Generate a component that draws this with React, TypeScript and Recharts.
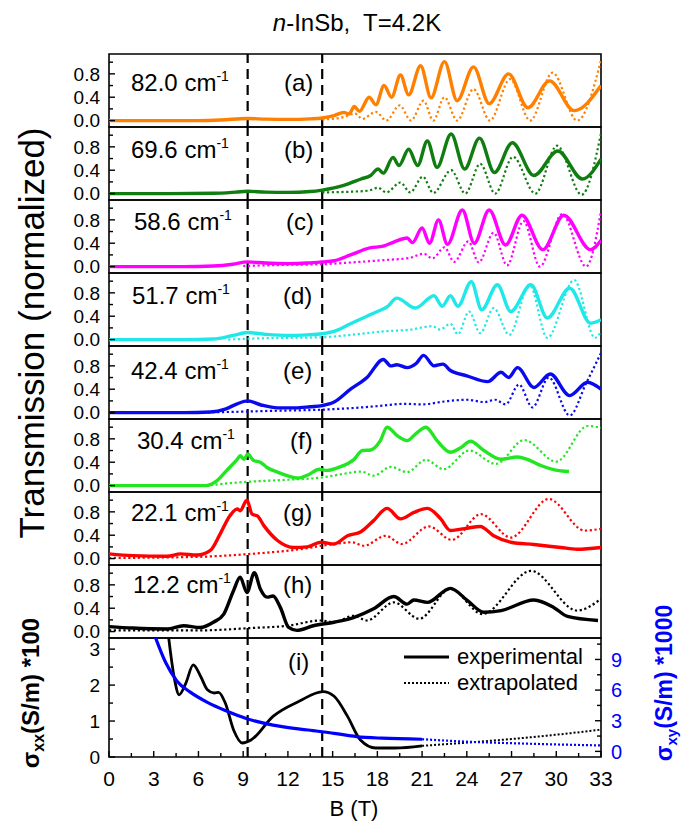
import React from "react";
import {
  LineChart,
  Line,
  XAxis,
  YAxis,
  ReferenceLine,
  ReferenceArea,
  Legend,
} from "recharts";

type Pt = [number, number];

const FONT = "'Liberation Sans', Arial, Helvetica, sans-serif";
const W = 689;
const PLOT_L = 109;
const PLOT_R = 601;
const PANEL_H = 73;
const BOTTOM_PLOT_H = 119;
const BOTTOM_AXIS_H = 40;

// shared B axis
const B_TICKS = [0, 1.5, 3, 4.5, 6, 7.5, 9, 10.5, 12, 13.5, 15, 16.5, 18, 19.5, 21, 22.5, 24, 25.5, 27, 28.5, 30, 31.5, 33];
const B_LABELS = [0, 3, 6, 9, 12, 15, 18, 21, 24, 27, 30, 33];
const DASHED_B = [9.3, 14.3];

// transmission panels
const T_DOMAIN: [number, number] = [-0.11, 1.14];
const T_TICKS = [0, 0.2, 0.4, 0.6, 0.8, 1.0];
const T_LABELS = [0, 0.4, 0.8];

// conductivity panel
const SXX_DOMAIN: [number, number] = [0, 3.31];
const SXX_TICKS = [0, 0.5, 1, 1.5, 2, 2.5, 3];
const SXX_LABELS = [0, 1, 2, 3];
const SXY_DOMAIN: [number, number] = [-0.55, 11.1];
const SXY_TICKS = [0, 1.5, 3, 4.5, 6, 7.5, 9, 10.5];
const SXY_LABELS = [0, 3, 6, 9];

// (a) 82.0 cm-1
const A_EXP: Pt[] = [[0, 0], [3, 0], [6, 0], [7.5, 0.01], [9.3, 0.035], [10.5, 0.025], [12, 0.02], [13.5, 0.03], [14.3, 0.045], [15.1, 0.085], [15.75, 0.14], [16.1, 0.11], [16.45, 0.24], [16.8, 0.16], [17.45, 0.4], [17.9, 0.27], [18.45, 0.6], [18.95, 0.4], [19.55, 0.78], [20.1, 0.44], [20.9, 0.94], [21.6, 0.39], [22.5, 1.01], [23.35, 0.34], [24.45, 0.92], [25.5, 0.29], [26.8, 0.8], [28.1, 0.22], [29.55, 0.68], [31.2, 0.17], [33, 0.6]];
const A_EXT: Pt[] = [[14.3, 0.02], [15.0, 0.03], [15.75, 0.06], [16.5, 0.12], [17.0, 0.03], [17.9, 0.15], [18.6, 0.0], [19.5, 0.26], [20.25, 0.0], [21.1, 0.34], [21.75, 0.0], [22.5, 0.4], [23.35, 0.0], [24.45, 0.54], [25.55, 0.0], [26.9, 0.71], [28.25, 0.0], [29.75, 0.82], [31.4, 0.0], [33, 1.03]];

// (b) 69.6 cm-1
const B_EXP: Pt[] = [[0, 0], [4, 0], [7, 0.005], [8.5, 0.025], [9.3, 0.04], [10.5, 0.025], [12, 0.02], [13.5, 0.035], [14.3, 0.06], [15.75, 0.14], [16.9, 0.25], [17.55, 0.31], [18.05, 0.42], [18.4, 0.35], [19.05, 0.62], [19.45, 0.48], [20.1, 0.76], [20.7, 0.48], [21.35, 0.9], [22.0, 0.45], [22.95, 1.02], [23.85, 0.42], [24.85, 0.95], [25.85, 0.36], [27.05, 0.87], [28.5, 0.31], [30.1, 0.73], [31.75, 0.25], [33, 0.59]];
const B_EXT: Pt[] = [[14.3, 0.02], [16, 0.03], [17.4, 0.05], [18.05, 0.1], [18.6, 0.02], [19.55, 0.19], [20.2, 0.02], [21.05, 0.29], [21.75, 0.01], [22.95, 0.4], [23.9, 0.0], [24.9, 0.51], [25.9, 0.0], [27.1, 0.63], [28.6, 0.0], [30.05, 0.82], [31.7, -0.02], [33, 1.03]];

// (c) 58.6 cm-1
const C_EXP: Pt[] = [[0, 0], [5, 0], [7, 0.01], [8.3, 0.04], [9.3, 0.08], [10.5, 0.06], [12, 0.05], [13.3, 0.06], [14.3, 0.08], [15.1, 0.1], [16.2, 0.2], [17.5, 0.32], [18.4, 0.35], [19.1, 0.42], [20.0, 0.49], [20.35, 0.41], [21.0, 0.66], [21.5, 0.4], [22.1, 0.8], [22.7, 0.38], [23.7, 0.97], [24.5, 0.4], [25.5, 0.97], [26.6, 0.37], [27.7, 0.88], [29.1, 0.29], [30.5, 0.88], [32.3, 0.29], [33, 0.45]];
const C_EXT: Pt[] = [[9, 0.01], [12, 0.03], [14.3, 0.04], [16.2, 0.07], [18.4, 0.11], [20.2, 0.15], [21.1, 0.22], [21.7, 0.14], [22.5, 0.33], [23.15, 0.08], [24.1, 0.43], [24.8, 0.07], [25.8, 0.58], [26.7, 0.02], [27.8, 0.78], [28.9, 0.0], [30.4, 0.9], [32.0, 0.0], [33, 0.95]];

// (d) 51.7 cm-1
const D_EXP: Pt[] = [[0, 0], [5, 0], [7, 0.01], [8.3, 0.07], [9.3, 0.12], [10.5, 0.09], [12, 0.07], [13.3, 0.08], [14.3, 0.1], [15.1, 0.14], [16.2, 0.27], [17.3, 0.4], [18.0, 0.48], [18.7, 0.57], [19.3, 0.71], [20.55, 0.54], [21.8, 0.75], [22.35, 0.57], [22.9, 0.75], [23.4, 0.57], [24.3, 0.99], [25.0, 0.51], [26.05, 0.94], [26.95, 0.48], [28.3, 0.94], [29.4, 0.37], [30.9, 0.88], [32.3, 0.28], [33, 0.34]];
const D_EXT: Pt[] = [[8, 0.0], [10, 0.02], [12, 0.03], [14.3, 0.04], [16.2, 0.08], [18.4, 0.14], [20.2, 0.17], [21.7, 0.23], [22.2, 0.17], [22.9, 0.27], [23.4, 0.09], [24.15, 0.48], [24.9, 0.11], [25.8, 0.54], [26.85, 0.08], [28.2, 0.94], [29.4, 0.03], [31.2, 1.02], [32.6, 0.03], [33, 0.14]];

// (e) 42.4 cm-1
const E_EXP: Pt[] = [[0, 0], [5, 0], [6.8, 0.01], [7.8, 0.06], [8.6, 0.15], [9.3, 0.2], [10.2, 0.13], [11.3, 0.08], [12.5, 0.08], [13.5, 0.1], [14.3, 0.12], [15.1, 0.18], [16.2, 0.4], [17.3, 0.6], [18.4, 0.91], [18.9, 0.8], [19.3, 0.82], [20.0, 0.77], [20.6, 0.84], [21.1, 0.98], [21.8, 0.8], [22.4, 0.83], [22.9, 0.72], [24.0, 0.63], [25.4, 0.53], [26.3, 0.69], [26.8, 0.6], [27.4, 0.77], [28.5, 0.43], [29.6, 0.66], [30.9, 0.29], [32.1, 0.52], [33, 0.4]];
const E_EXT: Pt[] = [[5, 0.0], [8, 0.01], [11, 0.03], [14.3, 0.05], [16.5, 0.08], [18.4, 0.12], [19.8, 0.15], [21.0, 0.14], [22.5, 0.19], [24.0, 0.22], [25.2, 0.18], [25.9, 0.22], [26.6, 0.14], [27.5, 0.48], [28.4, 0.09], [29.5, 0.6], [30.9, -0.05], [32.0, 0.5], [33, 1.02]];

// (f) 30.4 cm-1
const F_EXP: Pt[] = [[0, 0], [3, 0], [6.5, 0.0], [7.25, 0.085], [7.9, 0.26], [8.6, 0.45], [8.8, 0.51], [9.05, 0.45], [9.3, 0.54], [9.7, 0.43], [10.15, 0.4], [10.6, 0.31], [11.3, 0.23], [11.95, 0.17], [12.7, 0.13], [13.4, 0.19], [14.1, 0.28], [14.6, 0.26], [15.5, 0.32], [16.4, 0.44], [17.0, 0.6], [17.55, 0.61], [18.2, 0.77], [18.65, 1.0], [19.35, 0.85], [20.0, 0.77], [20.55, 0.88], [21.25, 1.0], [22.0, 0.77], [22.9, 0.57], [23.6, 0.65], [24.25, 0.76], [25.15, 0.6], [26.3, 0.45], [27.4, 0.49], [28.05, 0.45], [29.0, 0.34], [29.9, 0.27], [30.85, 0.24]];
const F_EXT: Pt[] = [[6.5, 0.0], [9, 0.06], [12, 0.1], [14.3, 0.14], [15.5, 0.19], [16.9, 0.24], [17.75, 0.17], [18.9, 0.32], [20.0, 0.23], [21.25, 0.44], [22.45, 0.28], [24.15, 0.6], [25.95, 0.37], [27.85, 0.78], [30.0, 0.41], [32.1, 1.02], [33, 0.99]];

// (g) 22.1 cm-1
const G_EXP: Pt[] = [[0, 0.08], [1.6, 0.05], [3.9, 0.04], [4.8, 0.08], [5.9, 0.06], [6.8, 0.14], [7.45, 0.42], [8.1, 0.73], [8.6, 0.85], [8.8, 0.82], [9.25, 1.0], [9.6, 0.76], [9.95, 0.73], [10.4, 0.56], [11.3, 0.31], [12.4, 0.19], [13.3, 0.2], [14.2, 0.28], [15.1, 0.25], [16.0, 0.39], [16.9, 0.46], [17.75, 0.65], [18.65, 0.86], [19.55, 0.68], [20.45, 0.79], [21.35, 0.86], [22.25, 0.68], [22.9, 0.48], [24.0, 0.52], [24.9, 0.55], [25.8, 0.39], [26.95, 0.28], [28.5, 0.24], [30.3, 0.19], [31.4, 0.16], [33, 0.19]];
const G_EXT: Pt[] = [[0, 0.01], [6, 0.03], [9.5, 0.08], [12.8, 0.16], [15.1, 0.25], [16.3, 0.28], [17.1, 0.22], [18.55, 0.39], [19.65, 0.25], [21.45, 0.55], [23.0, 0.32], [24.95, 0.76], [26.95, 0.36], [29.5, 1.02], [31.9, 0.48], [33, 0.51]];

// (h) 12.2 cm-1
const H_EXP: Pt[] = [[0, 0.085], [1.6, 0.06], [3.9, 0.045], [5.0, 0.1], [6.1, 0.07], [7.0, 0.16], [7.7, 0.3], [8.35, 0.7], [8.8, 0.93], [9.25, 0.67], [9.75, 1.01], [10.15, 0.73], [10.6, 0.59], [11.0, 0.61], [11.5, 0.41], [12.05, 0.07], [12.6, 0.02], [13.7, 0.1], [15.1, 0.16], [16.4, 0.24], [17.75, 0.39], [19.1, 0.6], [20.0, 0.47], [20.45, 0.54], [21.35, 0.5], [22.9, 0.74], [24.05, 0.53], [25.15, 0.33], [26.3, 0.36], [28.5, 0.54], [29.85, 0.41], [30.75, 0.26], [32.8, 0.19]];
const H_EXT: Pt[] = [[0, 0.02], [6, 0.02], [9.5, 0.06], [12, 0.1], [14.2, 0.19], [15.1, 0.16], [16.4, 0.27], [17.3, 0.19], [19.1, 0.5], [20.8, 0.22], [22.9, 0.73], [25.05, 0.3], [28.3, 1.04], [31.4, 0.36], [33, 0.56]];

// (i) conductivities
const SXX_EXP: Pt[] = [[3.95, 3.5], [4.4, 2.15], [4.7, 1.73], [5.15, 2.05], [5.65, 2.56], [6.15, 2.24], [6.6, 1.87], [7.05, 1.78], [7.35, 1.8], [7.8, 1.5], [8.35, 0.76], [8.95, 0.39], [9.55, 0.48], [11.0, 1.13], [12.75, 1.55], [14.35, 1.82], [15.1, 1.69], [16.0, 1.13], [16.85, 0.48], [17.9, 0.25], [19.2, 0.25], [21.0, 0.31]];
const SXX_EXT: Pt[] = [[21.0, 0.31], [24, 0.4], [27, 0.5], [30, 0.62], [33, 0.76]];
const SXY_EXP: Pt[] = [[3.0, 11.6], [3.8, 8.7], [4.55, 6.9], [5.45, 5.8], [6.6, 4.8], [7.8, 4.0], [9.25, 3.2], [11.0, 2.57], [13.35, 2.09], [15.1, 1.77], [16.6, 1.45], [18.3, 1.29], [21.0, 1.19]];
const SXY_EXT: Pt[] = [[21.0, 1.19], [24, 0.95], [27, 0.8], [30, 0.68], [33, 0.58]];

const LEGEND_ITEMS = [
  { label: "experimental", dash: undefined as string | undefined, width: 3 },
  { label: "extrapolated", dash: "2 2", width: 2 },
];

const PANELS = [
  { tag: "(a)", freq: "82.0", color: "#ff8000", exp: A_EXP, ext: A_EXT, labelY: 29, freqX: 131, tagX: 284 },
  { tag: "(b)", freq: "69.6", color: "#0f7d0f", exp: B_EXP, ext: B_EXT, labelY: 23, freqX: 131, tagX: 284 },
  { tag: "(c)", freq: "58.6", color: "#ff00ff", exp: C_EXP, ext: C_EXT, labelY: 22, freqX: 134, tagX: 286 },
  { tag: "(d)", freq: "51.7", color: "#20e8e8", exp: D_EXP, ext: D_EXT, labelY: 23, freqX: 132, tagX: 283 },
  { tag: "(e)", freq: "42.4", color: "#0a0aee", exp: E_EXP, ext: E_EXT, labelY: 25, freqX: 131, tagX: 283 },
  { tag: "(f)", freq: "30.4", color: "#22e622", exp: F_EXP, ext: F_EXT, labelY: 22, freqX: 137, tagX: 290 },
  { tag: "(g)", freq: "22.1", color: "#ff0000", exp: G_EXP, ext: G_EXT, labelY: 21, freqX: 131, tagX: 283 },
  { tag: "(h)", freq: "12.2", color: "#000000", exp: H_EXP, ext: H_EXT, labelY: 20, freqX: 133, tagX: 283 },
];

const rows = (pts: Pt[]) => pts.map(([b, v]) => ({ b, v }));

function BTick(props: any) {
  const { x, y, payload, showLabel } = props;
  const v = payload.value;
  const major = B_LABELS.includes(v);
  return (
    <g>
      <line x1={x} x2={x} y1={y} y2={y - (major ? 6 : 4)} stroke="#000" strokeWidth={1.4} />
      {showLabel && major && (
        <text x={x} y={y + 29} textAnchor="middle" fontSize={21} fontFamily={FONT} fill="#000">
          {v}
        </text>
      )}
    </g>
  );
}

function LeftTick(props: any) {
  const { x, y, payload, labels, digits, fontSize } = props;
  const v = payload.value;
  const major = labels.includes(v);
  return (
    <g>
      <line x1={x} x2={x + (major ? 6 : 4)} y1={y} y2={y} stroke="#000" strokeWidth={1.4} />
      {major && (
        <text x={x - 9} y={y} dy="0.36em" textAnchor="end" fontSize={fontSize} fontFamily={FONT} fill="#000">
          {v.toFixed(digits)}
        </text>
      )}
    </g>
  );
}

function RightTick(props: any) {
  const { x, y, payload } = props;
  const v = payload.value;
  const major = SXY_LABELS.includes(v);
  return (
    <g>
      <line x1={x} x2={x - (major ? 6 : 4)} y1={y} y2={y} stroke="#000" strokeWidth={1.4} />
      {major && (
        <text x={x + 10} y={y} dy="0.36em" textAnchor="start" fontSize={20} fontFamily={FONT} fill="#0000ff">
          {v}
        </text>
      )}
    </g>
  );
}

function LegendBox() {
  return (
    <div style={{ fontFamily: FONT, fontSize: 22, color: "#000" }}>
      {LEGEND_ITEMS.map((it) => (
        <div key={it.label} style={{ display: "flex", alignItems: "center", height: 26 }}>
          <svg width={47} height={10}>
            <line x1={0} x2={45} y1={5} y2={5} stroke="#000" strokeWidth={it.width} strokeDasharray={it.dash} />
          </svg>
          <span style={{ marginLeft: 6, whiteSpace: "nowrap" }}>{it.label}</span>
        </div>
      ))}
    </div>
  );
}

const labelStyle: React.CSSProperties = {
  position: "absolute",
  transform: "translateY(-50%)",
  fontFamily: FONT,
  fontSize: 24,
  lineHeight: 1,
  whiteSpace: "nowrap",
  color: "#000",
  pointerEvents: "none",
};

function TransmissionPanel({ p }: { p: (typeof PANELS)[number] }) {
  return (
    <div style={{ position: "relative", width: W, height: PANEL_H }}>
      <LineChart width={W} height={PANEL_H} margin={{ top: 0, right: W - PLOT_R, bottom: 0, left: 0 }}>
        <XAxis
          dataKey="b"
          type="number"
          domain={[0, 33]}
          ticks={B_TICKS}
          interval={0}
          height={0}
          tickSize={0}
          tickMargin={0}
          tickLine={false}
          axisLine={false}
          allowDataOverflow
          tick={<BTick showLabel={false} />}
        />
        <YAxis
          type="number"
          domain={T_DOMAIN}
          ticks={T_TICKS}
          interval={0}
          width={PLOT_L}
          tickSize={0}
          tickMargin={0}
          tickLine={false}
          axisLine={false}
          allowDataOverflow
          tick={<LeftTick labels={T_LABELS} digits={1} fontSize={19} />}
        />
        <ReferenceArea x1={0} x2={33} y1={T_DOMAIN[0]} y2={T_DOMAIN[1]} fill="none" stroke="#000" strokeWidth={1.6} ifOverflow="visible" />
        {DASHED_B.map((b) => (
          <ReferenceLine key={b} x={b} stroke="#000" strokeWidth={2.2} strokeDasharray="10 6" />
        ))}
        <Line data={rows(p.ext)} dataKey="v" type="monotone" stroke={p.color} strokeWidth={2.2} strokeDasharray="2.2 2.6" dot={false} isAnimationActive={false} />
        <Line data={rows(p.exp)} dataKey="v" type="monotone" stroke={p.color} strokeWidth={3.4} dot={false} isAnimationActive={false} />
      </LineChart>
      <div style={{ ...labelStyle, left: p.freqX, top: p.labelY }}>
        {p.freq} cm<span style={{ fontSize: 14, position: "relative", top: -10 }}>-1</span>
      </div>
      <div style={{ ...labelStyle, left: p.tagX, top: p.labelY }}>{p.tag}</div>
    </div>
  );
}

function ConductivityPanel() {
  return (
    <div style={{ position: "relative", width: W, height: BOTTOM_PLOT_H + BOTTOM_AXIS_H }}>
      <LineChart width={W} height={BOTTOM_PLOT_H + BOTTOM_AXIS_H} margin={{ top: 0, right: 0, bottom: 0, left: 0 }}>
        <XAxis
          dataKey="b"
          type="number"
          domain={[0, 33]}
          ticks={B_TICKS}
          interval={0}
          height={BOTTOM_AXIS_H}
          tickSize={0}
          tickMargin={0}
          tickLine={false}
          axisLine={false}
          allowDataOverflow
          tick={<BTick showLabel />}
        />
        <YAxis
          yAxisId="l"
          type="number"
          domain={SXX_DOMAIN}
          ticks={SXX_TICKS}
          interval={0}
          width={PLOT_L}
          tickSize={0}
          tickMargin={0}
          tickLine={false}
          axisLine={false}
          allowDataOverflow
          tick={<LeftTick labels={SXX_LABELS} digits={0} fontSize={19} />}
        />
        <YAxis
          yAxisId="r"
          orientation="right"
          type="number"
          domain={SXY_DOMAIN}
          ticks={SXY_TICKS}
          interval={0}
          width={W - PLOT_R}
          tickSize={0}
          tickMargin={0}
          tickLine={false}
          axisLine={false}
          allowDataOverflow
          tick={<RightTick />}
        />
        <ReferenceArea yAxisId="l" x1={0} x2={33} y1={SXX_DOMAIN[0]} y2={SXX_DOMAIN[1]} fill="none" stroke="#000" strokeWidth={1.6} ifOverflow="visible" />
        {DASHED_B.map((b) => (
          <ReferenceLine key={b} yAxisId="l" x={b} stroke="#000" strokeWidth={2.2} strokeDasharray="10 6" />
        ))}
        <Line yAxisId="l" data={rows(SXX_EXT)} dataKey="v" type="monotone" stroke="#000" strokeWidth={2} strokeDasharray="2 2" dot={false} isAnimationActive={false} />
        <Line yAxisId="r" data={rows(SXY_EXT)} dataKey="v" type="monotone" stroke="#0000ff" strokeWidth={2.2} strokeDasharray="2 2" dot={false} isAnimationActive={false} />
        <Line yAxisId="l" data={rows(SXX_EXP)} dataKey="v" type="monotone" stroke="#000" strokeWidth={2.8} dot={false} isAnimationActive={false} />
        <Line yAxisId="r" data={rows(SXY_EXP)} dataKey="v" type="monotone" stroke="#0000ff" strokeWidth={3.2} dot={false} isAnimationActive={false} />
        <Legend
          layout="vertical"
          align="center"
          verticalAlign="middle"
          wrapperStyle={{ left: 404, top: 6, width: 200 }}
          content={() => <LegendBox />}
        />
      </LineChart>
      <div style={{ ...labelStyle, left: 288, top: 24 }}>(i)</div>
    </div>
  );
}

const rotated = (cx: number, cy: number): React.CSSProperties => ({
  position: "absolute",
  left: cx,
  top: cy,
  transform: "translate(-50%, -50%) rotate(-90deg)",
  whiteSpace: "nowrap",
  fontFamily: FONT,
  lineHeight: 1,
});

export default function App() {
  return (
    <div style={{ position: "absolute", left: 0, top: 0, width: W, height: 834, background: "#fff", overflow: "hidden" }}>
      <style>{`.recharts-surface { overflow: visible; }`}</style>
      <div
        style={{
          position: "absolute",
          left: 357,
          top: 23,
          transform: "translate(-50%, -50%)",
          fontFamily: FONT,
          fontSize: 24,
          whiteSpace: "pre",
          lineHeight: 1,
        }}
      >
        <i>n</i>-InSb,  T=4.2K
      </div>

      <div style={{ ...rotated(31, 333), fontSize: 35 }}>Transmission (normalized)</div>

      <div style={{ ...rotated(31, 693), fontSize: 24, fontWeight: "bold" }}>
        σ<span style={{ fontSize: 16, position: "relative", top: 5 }}>xx</span>(S/m) *100
      </div>

      <div style={{ ...rotated(664, 683), fontSize: 23, fontWeight: "bold", color: "#0000ff" }}>
        σ<span style={{ fontSize: 15, position: "relative", top: 5 }}>xy</span>(S/m) *1000
      </div>

      <div
        style={{
          position: "absolute",
          left: 354,
          top: 809,
          transform: "translate(-50%, -50%)",
          fontFamily: FONT,
          fontSize: 22,
          lineHeight: 1,
          whiteSpace: "nowrap",
        }}
      >
        B (T)
      </div>

      <div style={{ position: "absolute", left: 0, top: 54 }}>
        {PANELS.map((p) => (
          <TransmissionPanel key={p.tag} p={p} />
        ))}
        <ConductivityPanel />
      </div>
    </div>
  );
}
